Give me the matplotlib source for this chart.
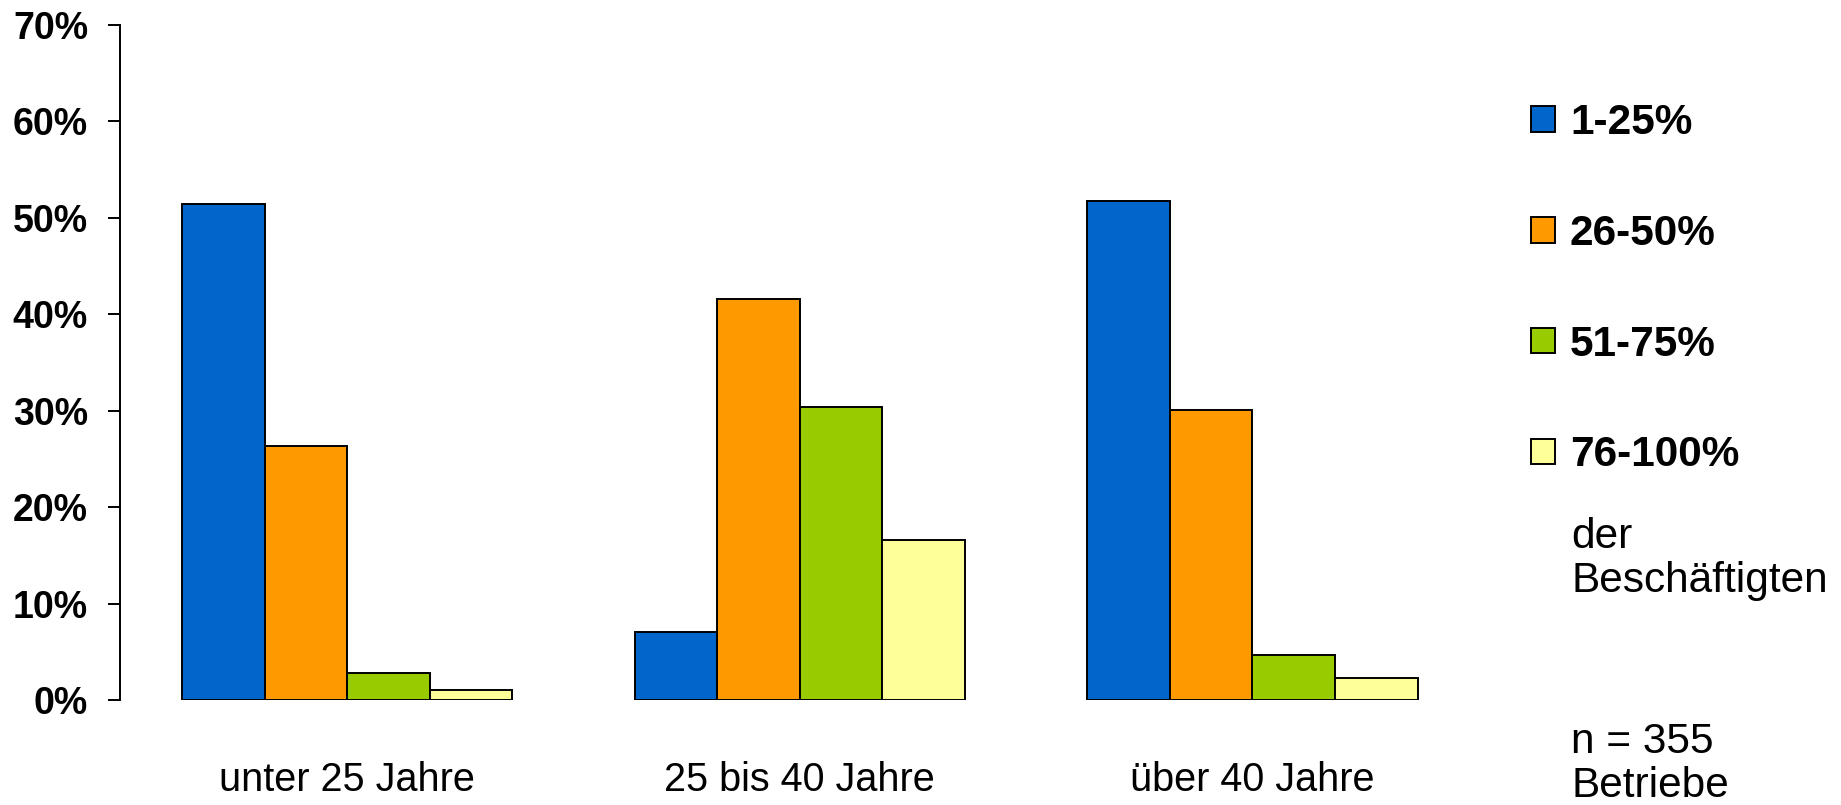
import numpy as np
import matplotlib
matplotlib.use("Agg")
import matplotlib.pyplot as plt
from matplotlib.ticker import PercentFormatter

plt.rcParams['font.family'] = ['Liberation Sans', 'DejaVu Sans']

# Altersgruppen und Anteile (in %)
groups = ["unter 25 Jahre", "25 bis 40 Jahre", "über 40 Jahre"]
series = ["1-25%", "26-50%", "51-75%", "76-100%"]
v_1_25 = [51.4, 7.0, 51.7]
v_26_50 = [26.3, 41.6, 30.1]
v_51_75 = [2.8, 30.4, 4.7]
v_76_100 = [1.0, 16.6, 2.3]
colors = ["#0066CC", "#FF9900", "#99CC00", "#FFFF99"]

values = [v_1_25, v_26_50, v_51_75, v_76_100]

fig = plt.figure(figsize=(18.41, 8.05), dpi=100)
ax = fig.add_axes([0.0652, 0.1304, 0.738, 0.839])

x = np.arange(len(groups))
w = 0.73 / 4
for i, (vals, lab, col) in enumerate(zip(values, series, colors)):
    ax.bar(x + (i - 1.5) * w, vals, width=w, color=col, edgecolor="black",
           linewidth=1.4, label=lab)

ax.set_xlim(-0.502, 2.5)
ax.set_ylim(0, 70)
ax.set_yticks(np.arange(0, 71, 10))
ax.yaxis.set_major_formatter(PercentFormatter(decimals=0))
ax.set_xticks(x)
ax.set_xticklabels(groups, fontsize=28.5)
ax.tick_params(axis="x", length=0, pad=44)
ax.tick_params(axis="y", length=9, width=1.4, pad=14, labelsize=27)
for t in ax.get_yticklabels():
    t.set_fontweight("bold")

for s in ["top", "right", "bottom"]:
    ax.spines[s].set_visible(False)
ax.spines["left"].set_linewidth(1.4)

# Legende rechts
fig.legend(loc="upper left", bbox_to_anchor=(0.8226, 0.893), frameon=False,
           prop={"size": 30.5, "weight": "bold"}, labelspacing=1.67,
           handlelength=0.55, handleheight=0.55, handletextpad=0.36,
           borderaxespad=0)

fig.text(0.8535, 0.306, "der\nBeschäftigten", fontsize=30.5, va="center",
         ha="left", linespacing=1.12)
fig.text(0.8535, 0.051, "n = 355\nBetriebe", fontsize=30.5, va="center",
         ha="left", linespacing=1.12)

fig.savefig("out.png", dpi=100)
